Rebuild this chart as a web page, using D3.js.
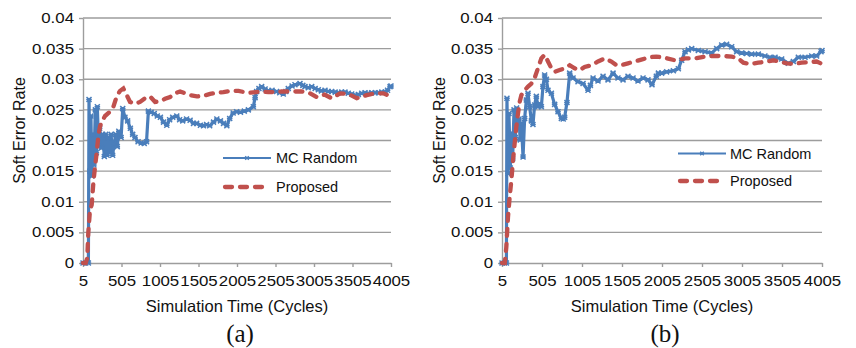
<!DOCTYPE html>
<meta charset="utf-8">
<script src="https://cdn.jsdelivr.net/npm/d3@7"></script>
<style>
body {margin: 0; background: #fff;}
text {font-family: "Liberation Sans", Arial, sans-serif; fill: #111;}
.grid line, .domain, .tick line {stroke: #9d9d9d; stroke-width: 1.4;}
.tick text {font-size: 13.8px;}
.atitle {font-size: 16.5px;}
.legend text {font-size: 14.5px;}
.tag {font-family: "Liberation Serif", "Times New Roman", serif; font-size: 25px;}
</style>
<svg width="856" height="348"></svg>
<script>
// cycle ticks and y ticks
var xTicks = [5, 505, 1005, 1505, 2005, 2505, 3005, 3505, 4005];
var yTicks = [0, 0.005, 0.01, 0.015, 0.02, 0.025, 0.03, 0.035, 0.04];
var seriesNames = ["MC Random", "Proposed"];

// panel (a): [cycle, soft error rate]
var mcA = [[5,0],[40,0],[75,0],[83,0.0267],[95,0.015],[108,0.024],[121,0.0142],[134,0.021],[147,0.016],
  [165,0.025],[178,0.018],[191,0.0255],[208,0.019],[221,0.022],[243,0.0188],[260,0.021],[282,0.0174],
  [300,0.021],[318,0.0176],[335,0.0205],[352,0.018],[370,0.021],[390,0.0176],[410,0.0195],[430,0.021],
  [450,0.019],[470,0.0215],[500,0.0205],[521,0.0252],[550,0.0238],[585,0.0232],[620,0.022],[650,0.021],
  [680,0.0205],[720,0.0198],[760,0.0196],[800,0.0195],[830,0.0198],[854,0.0248],[890,0.0246],[930,0.0244],
  [970,0.024],[1010,0.0238],[1050,0.023],[1093,0.0225],[1130,0.0234],[1170,0.0238],[1223,0.024],[1260,0.0234],
  [1300,0.0232],[1350,0.0235],[1396,0.0233],[1440,0.0228],[1480,0.0228],[1530,0.0225],[1569,0.0224],
  [1610,0.0226],[1650,0.0224],[1700,0.023],[1743,0.0235],[1790,0.0232],[1830,0.0228],[1873,0.0224],
  [1910,0.0236],[1955,0.0245],[2000,0.0247],[2050,0.0246],[2100,0.0248],[2152,0.025],[2217,0.0255],
  [2240,0.027],[2260,0.028],[2290,0.0285],[2325,0.0288],[2370,0.0284],[2411,0.0281],[2460,0.0282],
  [2520,0.028],[2560,0.0278],[2606,0.0276],[2640,0.028],[2671,0.0285],[2720,0.0289],[2758,0.0291],
  [2823,0.0293],[2860,0.029],[2888,0.0288],[2930,0.0286],[2975,0.0288],[3020,0.0285],[3061,0.0283],
  [3100,0.0281],[3148,0.0282],[3190,0.028],[3235,0.028],[3280,0.0279],[3321,0.0278],[3365,0.0279],
  [3408,0.0279],[3450,0.0277],[3495,0.0276],[3540,0.0274],[3581,0.0275],[3625,0.0277],[3668,0.0278],
  [3710,0.0277],[3755,0.0278],[3800,0.0278],[3841,0.0278],[3885,0.0279],[3928,0.0279],[3960,0.0282],
  [3993,0.0288],[4005,0.0289]];
var propA = [[5,0],[40,0],[60,0.0008],[74,0.005],[96,0.0087],[118,0.0095],[139,0.013],[161,0.0157],
  [183,0.018],[204,0.0207],[226,0.0223],[250,0.0231],[291,0.024],[356,0.0247],[399,0.0255],[443,0.0272],
  [486,0.0281],[529,0.0285],[573,0.0274],[616,0.0263],[681,0.026],[746,0.0263],[811,0.0269],[876,0.0272],
  [941,0.0263],[1006,0.0264],[1071,0.0268],[1136,0.0271],[1201,0.0277],[1266,0.028],[1331,0.0277],
  [1396,0.0274],[1483,0.0272],[1569,0.0273],[1656,0.0276],[1743,0.0278],[1829,0.0279],[1916,0.0281],
  [2024,0.0281],[2100,0.0279],[2174,0.0278],[2250,0.0279],[2325,0.028],[2410,0.0279],[2498,0.0279],
  [2580,0.028],[2671,0.028],[2760,0.028],[2845,0.028],[2953,0.0277],[3040,0.0271],[3140,0.0275],
  [3235,0.0269],[3343,0.0277],[3451,0.0276],[3560,0.0269],[3690,0.0274],[3798,0.0277],[3906,0.0277],
  [4005,0.0272]];

// panel (b)
var mcB = [[5,0],[35,0],[60,0],[67,0.0269],[80,0.0146],[92,0.0244],[109,0.0155],[122,0.0212],[138,0.017],
  [155,0.025],[172,0.0205],[188,0.0253],[205,0.023],[218,0.0235],[232,0.0201],[247,0.0228],[268,0.0173],
  [288,0.0236],[309,0.0266],[330,0.0277],[351,0.0255],[372,0.0232],[392,0.0226],[413,0.0258],[434,0.0272],
  [455,0.0255],[476,0.026],[497,0.0255],[517,0.0288],[538,0.0307],[560,0.03],[580,0.0282],[622,0.0277],
  [663,0.0259],[705,0.0247],[747,0.0236],[770,0.0235],[788,0.0238],[817,0.0262],[851,0.031],[893,0.0302],
  [955,0.0296],[1018,0.0293],[1080,0.0282],[1110,0.029],[1143,0.0302],[1205,0.0297],[1268,0.0305],
  [1330,0.0299],[1393,0.031],[1455,0.0302],[1518,0.0299],[1580,0.0305],[1643,0.0302],[1705,0.0297],
  [1768,0.0302],[1830,0.0299],[1880,0.0291],[1934,0.0305],[1960,0.031],[2001,0.031],[2063,0.0312],
  [2147,0.0314],[2209,0.0317],[2251,0.0331],[2293,0.0345],[2335,0.0348],[2376,0.035],[2459,0.0347],
  [2543,0.0345],[2626,0.0343],[2688,0.035],[2751,0.0356],[2813,0.0357],[2876,0.0353],[2938,0.0345],
  [3001,0.0343],[3063,0.0342],[3126,0.0341],[3209,0.0341],[3292,0.0338],[3355,0.0336],[3418,0.0336],
  [3501,0.0333],[3584,0.0326],[3647,0.0329],[3709,0.0336],[3793,0.0336],[3876,0.0338],[3938,0.0338],
  [3993,0.0345],[4005,0.0347]];
var propB = [[5,0],[40,0],[59,0.0026],[80,0.0075],[101,0.0108],[122,0.0135],[143,0.0168],[163,0.0195],
  [184,0.0222],[205,0.0244],[226,0.0263],[247,0.0274],[288,0.0282],[330,0.0288],[372,0.0293],[413,0.0302],
  [455,0.0318],[497,0.0334],[538,0.034],[580,0.0329],[622,0.0318],[663,0.0312],[726,0.0315],[788,0.0318],
  [851,0.0323],[913,0.0318],[976,0.0315],[1038,0.032],[1122,0.0323],[1205,0.0329],[1288,0.0334],
  [1372,0.0329],[1434,0.0323],[1497,0.0323],[1580,0.0326],[1663,0.0329],[1747,0.0332],[1851,0.0336],
  [1934,0.0337],[2043,0.0335],[2168,0.0331],[2293,0.0334],[2418,0.0334],[2543,0.0337],[2668,0.0338],
  [2751,0.0338],[2876,0.0337],[2959,0.0334],[3022,0.0327],[3105,0.0325],[3209,0.0327],[3313,0.0329],
  [3397,0.0331],[3480,0.0329],[3563,0.0326],[3647,0.0325],[3751,0.0327],[3855,0.0328],[3938,0.0329],
  [4005,0.0325]];

var blue = "#4a7ebb", red = "#c0504d";
var stretch = 1.22; // tick digits are drawn wide in the original
var marker = "M-2.5,-2.5L2.5,2.5M-2.5,2.5L2.5,-2.5M-2.8,0L2.8,0";

var panels = [
  {x0: 83, x1: 391, mc: mcA, prop: propA, tag: "(a)", titleX: 25,
   leg: {lx: 223, ly: 158, ly2: 187, tx: 276}},
  {x0: 502, x1: 822, mc: mcB, prop: propB, tag: "(b)", titleX: 445,
   leg: {lx: 678, ly: 153.5, ly2: 181, tx: 730}}
];

var svg = d3.select("svg");
var top0 = 18, bottom0 = 263;

panels.forEach(function(p) {
  var x = d3.scaleLinear().domain([5, 4005]).range([p.x0, p.x1]);
  var y = d3.scaleLinear().domain([0, 0.04]).range([bottom0, top0]);
  var g = svg.append("g");

  // gridlines
  g.append("g").attr("class", "grid")
    .selectAll("line").data(yTicks.slice(1)).enter().append("line")
    .attr("x1", p.x0).attr("x2", p.x1)
    .attr("y1", function(d) { return y(d); })
    .attr("y2", function(d) { return y(d); });

  var yAxis = g.append("g")
    .attr("transform", "translate(" + p.x0 + ",0)")
    .call(d3.axisLeft(y).tickValues(yTicks).tickSizeOuter(0).tickSizeInner(4)
      .tickFormat(function(d) { return String(+d.toFixed(3)); }));
  yAxis.selectAll(".tick text")
    .attr("x", -9 / stretch)
    .attr("transform", "scale(" + stretch + ",1)");

  var xAxis = g.append("g")
    .attr("transform", "translate(0," + bottom0 + ")")
    .call(d3.axisBottom(x).tickValues(xTicks).tickSizeOuter(0).tickSizeInner(4).tickPadding(9)
      .tickFormat(d3.format("d")));
  xAxis.selectAll(".tick text")
    .attr("transform", "scale(" + stretch + ",1)");

  var line = d3.line()
    .x(function(d) { return x(d[0]); })
    .y(function(d) { return y(d[1]); });

  // MC Random: line with a marker on every point
  g.append("path").datum(p.mc)
    .attr("d", line)
    .attr("fill", "none").attr("stroke", blue).attr("stroke-width", 3.2)
    .attr("stroke-linejoin", "round");
  g.append("g").selectAll("path").data(p.mc).enter().append("path")
    .attr("d", marker)
    .attr("transform", function(d) { return "translate(" + x(d[0]) + "," + y(d[1]) + ")"; })
    .attr("fill", "none").attr("stroke", blue).attr("stroke-width", 1.5);

  // Proposed: heavy dashed line
  g.append("path").datum(p.prop)
    .attr("d", line)
    .attr("fill", "none").attr("stroke", red).attr("stroke-width", 4.3)
    .attr("stroke-dasharray", "7,8").attr("stroke-linecap", "round");

  // legend
  var lg = g.append("g").attr("class", "legend");
  lg.append("line")
    .attr("x1", p.leg.lx).attr("x2", p.leg.lx + 48)
    .attr("y1", p.leg.ly).attr("y2", p.leg.ly)
    .attr("stroke", blue).attr("stroke-width", 1.8);
  lg.append("path").attr("d", "M-1.8,-1.8L1.8,1.8M-1.8,1.8L1.8,-1.8")
    .attr("transform", "translate(" + (p.leg.lx + 24) + "," + p.leg.ly + ")")
    .attr("fill", "none").attr("stroke", blue).attr("stroke-width", 1.4);
  lg.append("line")
    .attr("x1", p.leg.lx + 2).attr("x2", p.leg.lx + 42)
    .attr("y1", p.leg.ly2).attr("y2", p.leg.ly2)
    .attr("stroke", red).attr("stroke-width", 4.3)
    .attr("stroke-dasharray", "7,8").attr("stroke-linecap", "round");
  lg.append("text").attr("x", p.leg.tx).attr("y", p.leg.ly + 5).text(seriesNames[0]);
  lg.append("text").attr("x", p.leg.tx).attr("y", p.leg.ly2 + 5).text(seriesNames[1]);

  // titles
  var cx = (p.x0 + p.x1) / 2;
  g.append("text").attr("class", "atitle")
    .attr("x", cx).attr("y", 312).attr("text-anchor", "middle")
    .text("Simulation Time (Cycles)");
  g.append("text").attr("class", "atitle")
    .attr("text-anchor", "middle")
    .attr("transform", "translate(" + p.titleX + ",130.5) rotate(-90)")
    .style("font-size", "16px")
    .text("Soft Error Rate");
  g.append("text").attr("class", "tag")
    .attr("x", cx + 3).attr("y", 342).attr("text-anchor", "middle")
    .text(p.tag);
});
</script>
